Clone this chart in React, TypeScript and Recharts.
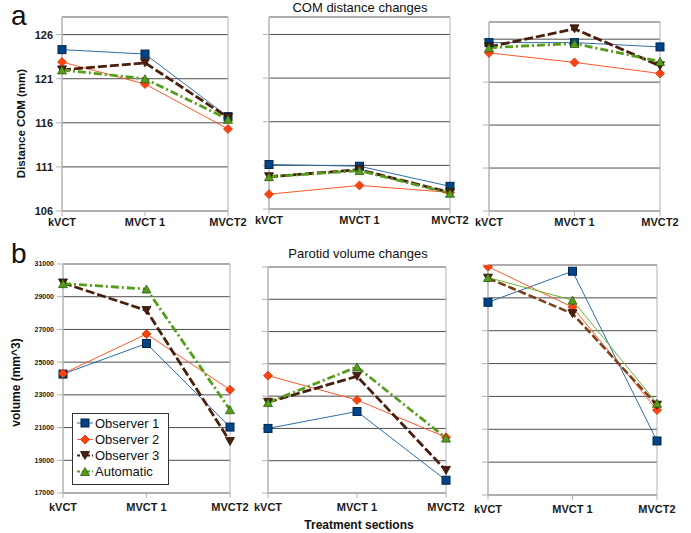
import { LineChart, Line, XAxis, YAxis, CartesianGrid, ReferenceArea } from 'recharts';

const categories = ['kVCT', 'MVCT 1', 'MVCT2'];

// COM distance (mm), one set per column
const comObs1 = [[124.3, 123.8, 116.7], [111.1, 110.9, 108.6], [125.6, 125.6, 125.1]];
const comObs2 = [[122.9, 120.4, 115.3], [107.7, 108.7, 107.9], [124.4, 123.3, 122.0]];
const comObs3 = [[122.0, 122.8, 116.6], [109.7, 110.5, 107.9], [125.1, 127.2, 122.9]];
const comAuto = [[122.0, 121.0, 116.4], [109.7, 110.4, 107.8], [125.0, 125.5, 123.4]];
const comTicks = [106, 111, 116, 121, 126];

// parotid volume (mm^3)
const volObs1 = [[24270, 26140, 21030], [21000, 22050, 17790], [28730, 30620, 20290]];
const volObs2 = [[24300, 26720, 23310], [24270, 22760, 20450], [30900, 28430, 22170]];
const volObs3 = [[29840, 28160, 20150], [22620, 24230, 18400], [30200, 28040, 22470]];
const volAuto = [[29800, 29470, 22090], [22600, 24810, 20400], [30240, 28860, 22580]];
const volTicks = [17000, 19000, 21000, 23000, 25000, 27000, 29000, 31000];

const seriesNames = ['Observer 1', 'Observer 2', 'Observer 3', 'Automatic'];

const AXIS = '#b3b3b3';
const GRID = '#4d4d4d';
const FONT = '"Liberation Sans", Arial, sans-serif';

type Shape = 'square' | 'diamond' | 'down' | 'up';

function marker(shape: Shape, cx: number, cy: number, key?: string) {
  if (shape === 'square')
    return <rect key={key} x={cx - 4} y={cy - 4} width={8} height={8} fill="#004586" stroke="#00264d" strokeWidth={1} />;
  if (shape === 'diamond')
    return <path key={key} d={`M${cx},${cy - 4.5}L${cx + 4.5},${cy}L${cx},${cy + 4.5}L${cx - 4.5},${cy}Z`} fill="#ff420e" stroke="#c8330b" strokeWidth={0.8} />;
  if (shape === 'down')
    return <path key={key} d={`M${cx - 4.5},${cy - 4}L${cx + 4.5},${cy - 4}L${cx},${cy + 4}Z`} fill="#4b1f0e" stroke="#2a0f05" strokeWidth={0.8} />;
  return <path key={key} d={`M${cx - 4.5},${cy + 4}L${cx + 4.5},${cy + 4}L${cx},${cy - 4}Z`} fill="#579d1c" stroke="#2d5a0c" strokeWidth={0.8} />;
}

interface SeriesStyle {
  key: string;
  stroke: string;
  width: number;
  dash?: string;
  shape: Shape;
}

const baseStyles: SeriesStyle[] = [
  { key: 'o1', stroke: '#2f6ea6', width: 1, shape: 'square' },
  { key: 'o2', stroke: '#ff5a2a', width: 1, shape: 'diamond' },
  { key: 'o3', stroke: '#4b1f0e', width: 2.8, dash: '9 3', shape: 'down' },
  { key: 'au', stroke: '#579d1c', width: 2.8, dash: '8 3 2 3', shape: 'up' },
];

const lastPanelStyles: SeriesStyle[] = [
  baseStyles[0],
  baseStyles[1],
  { key: 'o3', stroke: '#7b3f16', width: 2.5, dash: '8 3', shape: 'down' },
  { key: 'au', stroke: '#6fb32e', width: 1, shape: 'up' },
];

interface PanelProps {
  series: number[][];
  x1: number;
  x2: number;
  y1: number;
  y2: number;
  domain: [number, number];
  ticks: number[];
  showY: boolean;
  yFont: number;
  xMargin: number;
  styles?: SeriesStyle[];
}

const YW = 50;
const MT = 10;
const MR = 24;
const XH = 26;

function Panel({ series, x1, x2, y1, y2, domain, ticks, showY, yFont, xMargin, styles = baseStyles }: PanelProps) {
  const data = categories.map((c, i) => ({
    cat: c,
    o1: series[0][i],
    o2: series[1][i],
    o3: series[2][i],
    au: series[3][i],
  }));
  const width = x2 - x1 + YW + MR;
  const height = y2 - y1 + MT + XH;
  return (
    <div style={{ position: 'absolute', left: x1 - YW, top: y1 - MT }}>
      <LineChart width={width} height={height} data={data} margin={{ top: MT, right: MR, bottom: 0, left: 0 }}>
        <ReferenceArea x1="kVCT" x2="MVCT2" y1={domain[0]} y2={domain[1]} fill="none" stroke={AXIS} ifOverflow="visible" />
        <CartesianGrid vertical={false} stroke={GRID} />
        <XAxis
          dataKey="cat"
          interval={0}
          height={XH}
          tickSize={5}
          tickMargin={xMargin}
          tick={{ fontSize: 11, fontWeight: 700, fill: '#1a1a1a' }}
          tickLine={{ stroke: AXIS }}
          axisLine={{ stroke: AXIS }}
        />
        <YAxis
          width={YW}
          domain={domain}
          ticks={ticks}
          type="number"
          allowDataOverflow
          tickSize={6}
          tickMargin={3}
          tickFormatter={(v: number) => (showY ? String(v) : '')}
          tick={{ fontSize: yFont, fontWeight: 700, fill: '#1a1a1a' }}
          tickLine={{ stroke: AXIS }}
          axisLine={{ stroke: AXIS }}
        />
        {styles.map((s) => (
          <Line
            key={s.key}
            dataKey={s.key}
            type="linear"
            stroke={s.stroke}
            strokeWidth={s.width}
            strokeDasharray={s.dash}
            isAnimationActive={false}
            dot={(p: any) => marker(s.shape, p.cx, p.cy, `${s.key}-${p.index}`)}
            activeDot={false}
          />
        ))}
      </LineChart>
    </div>
  );
}

function Legend() {
  const rows = [423, 439.5, 455.5, 471.5];
  return (
    <g>
      <rect x={72.5} y={413.5} width={96} height={71} fill="#fff" stroke="#333" strokeWidth={1} />
      {baseStyles.map((s, i) => (
        <g key={s.key}>
          <line x1={77} x2={93} y1={rows[i]} y2={rows[i]} stroke={s.stroke} strokeWidth={Math.min(s.width, 2)} strokeDasharray={s.dash ? '3 2' : undefined} />
          {marker(s.shape, 85, rows[i])}
          <text x={95} y={rows[i] + 4.6} fontSize={13} fill="#111">{seriesNames[i]}</text>
        </g>
      ))}
    </g>
  );
}

export default function App() {
  const comDomain: [number, number] = [106, 128];
  const volDomain: [number, number] = [17000, 31000];
  const pick = (arrs: number[][][], c: number) => arrs.map((a) => a[c]);
  const comSets = [comObs1, comObs2, comObs3, comAuto];
  const volSets = [volObs1, volObs2, volObs3, volAuto];
  return (
    <div style={{ position: 'absolute', left: 0, top: 0, width: 691, height: 533, background: '#fff', fontFamily: FONT, overflow: 'hidden' }}>
      <Panel series={pick(comSets, 0)} x1={62} x2={228} y1={17} y2={211} domain={comDomain} ticks={comTicks} showY yFont={11} xMargin={2} />
      <Panel series={pick(comSets, 1)} x1={269} x2={450} y1={17} y2={209} domain={comDomain} ticks={comTicks} showY={false} yFont={11} xMargin={2} />
      <Panel series={pick(comSets, 2)} x1={489} x2={660} y1={22} y2={211} domain={comDomain} ticks={comTicks} showY={false} yFont={11} xMargin={2} />
      <Panel series={pick(volSets, 0)} x1={63} x2={230} y1={264} y2={493} domain={volDomain} ticks={volTicks} showY yFont={7} xMargin={5} />
      <Panel series={pick(volSets, 1)} x1={268} x2={446} y1={267} y2={493} domain={volDomain} ticks={volTicks} showY={false} yFont={7} xMargin={5} />
      <Panel series={pick(volSets, 2)} x1={488} x2={657} y1={265} y2={495} domain={volDomain} ticks={volTicks} showY={false} yFont={7} xMargin={5} styles={lastPanelStyles} />

      <svg width={691} height={533} style={{ position: 'absolute', left: 0, top: 0, pointerEvents: 'none' }}>
        <text x={11} y={25} fontSize={28} fill="#111">a</text>
        <text x={11} y={263} fontSize={28} fill="#111">b</text>
        <text x={360} y={12} fontSize={13} textAnchor="middle" fill="#111">COM distance changes</text>
        <text x={358} y={258} fontSize={13} textAnchor="middle" fill="#111">Parotid volume changes</text>
        <text x={25} y={123.5} fontSize={11.5} fontWeight={700} textAnchor="middle" fill="#111" transform="rotate(-90 25 123.5)">Distance COM (mm)</text>
        <text x={20} y={382.5} fontSize={12} fontWeight={700} textAnchor="middle" fill="#111" transform="rotate(-90 20 382.5)">volume (mm^3)</text>
        <text x={359} y={529} fontSize={12} fontWeight={700} textAnchor="middle" fill="#111">Treatment sections</text>
        <Legend />
      </svg>
    </div>
  );
}
